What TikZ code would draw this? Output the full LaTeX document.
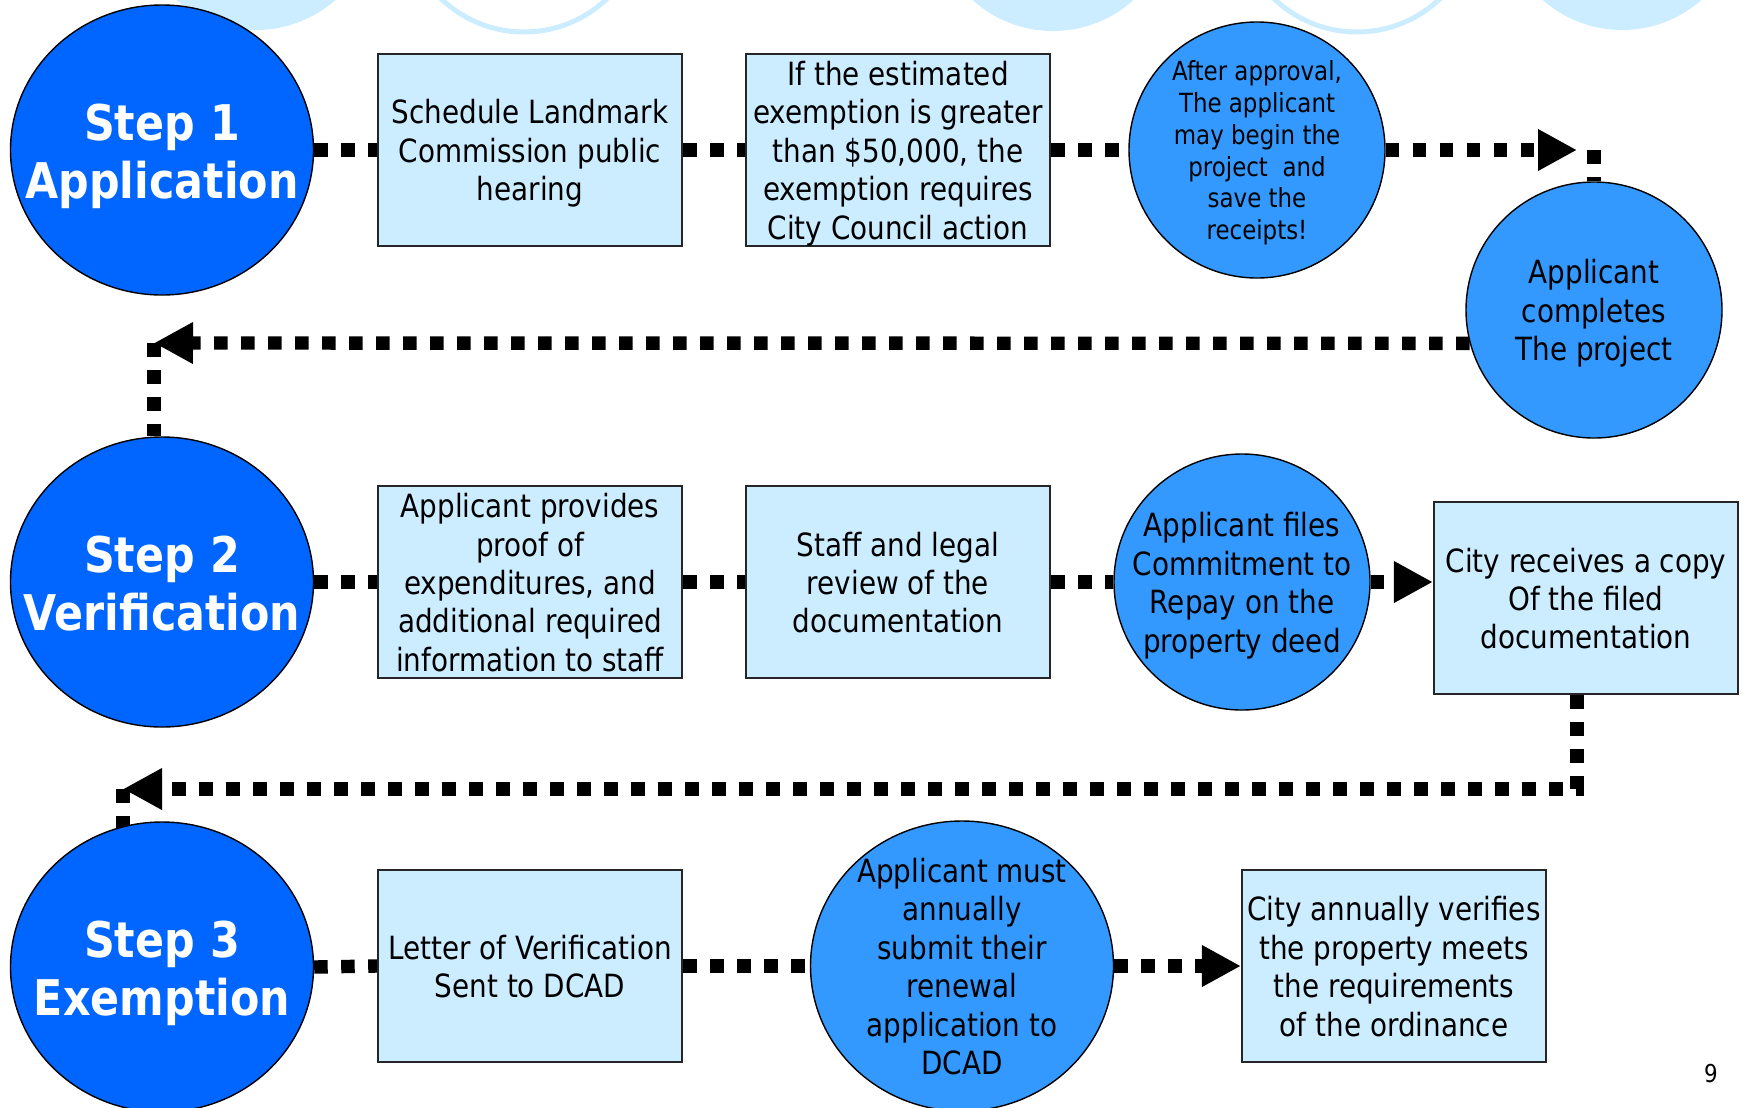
\documentclass[tikz,border=0pt]{standalone}
\usepackage{fontspec}
\setmainfont{DejaVu Sans}[FakeStretch=0.87]
\usetikzlibrary{arrows.meta,shapes.geometric,backgrounds}
\definecolor{stepblue}{RGB}{0,102,255}
\definecolor{actblue}{RGB}{51,153,255}
\definecolor{paleblue}{RGB}{204,236,255}
\newcommand{\boxfont}{\fontsize{9.1}{10.95}\selectfont}
\newcommand{\smallboxfont}{\fontsize{7.5}{9.05}\selectfont}
\newcommand{\stepfont}{\fontsize{14}{16.5}\selectfont\bfseries}
% fixed line metrics, first line and last line
\newcommand{\tpad}{\rule{0pt}{1.08em}}
\tikzset{
  evenrows/.style={execute at end node={\rule[-0.3em]{0pt}{0pt}}},
  stepc/.style={ellipse, draw=black, line width=0.4pt, fill=stepblue, minimum width=30.3mm,
    minimum height=29mm, inner xsep=-5mm, inner ysep=-5mm, text=white, font=\stepfont,
    align=center, evenrows},
  bigact/.style={stepc, fill=actblue, text=black, font=\boxfont},
  actc/.style={circle, draw=black, line width=0.4pt, fill=actblue, minimum size=25.6mm,
    inner sep=-3mm, font=\boxfont, align=center, evenrows},
  infob/.style={draw=black!85, line width=0.6pt, fill=paleblue, minimum width=30.4mm,
    minimum height=19.2mm, inner xsep=0pt, inner ysep=-1.5mm, font=\boxfont, align=center, evenrows},
  dotln/.style={line width=1.34mm, dash pattern=on 1.35mm off 1.35mm},
  dotarr/.style={dotln, -{Triangle[length=3.9mm, width=3.9mm]}},
  decofill/.style={fill=paleblue},
  decoring/.style={draw=paleblue, line width=0.5mm},
}

\begin{document}
\begin{tikzpicture}[x=0.1mm,y=-0.1mm]
\useasboundingbox (0,0) rectangle (1748,1107);
% pale circles cut by the top edge
\fill[decofill] (256,-90) circle (12mm);
\draw[decoring] (524,-88) circle (12mm);
\fill[decofill] (1053,-89) circle (12mm);
\draw[decoring] (1357,-88) circle (12mm);
\fill[decofill] (1622,-90) circle (12mm);

% step 1
\node[stepc] (step1) at (162,150) {\tpad Step 1\\Application};
\node[infob] (hearing) at (530,150) {\tpad Schedule Landmark\\Commission public\\hearing};
\node[infob] (council) at (898,150)
  {\tpad If the estimated\\exemption is greater\\than \$50,000, the\\exemption requires\\City Council action};
\node[actc, font=\smallboxfont] (approval) at (1257,150)
  {\tpad After approval,\\ The applicant\\may begin the\\project~ and\\save the\\receipts!};
\node[actc] (complete) at (1594,310) {\tpad Applicant\\completes\\The project};

% step 2
\node[stepc] (step2) at (162,582) {\tpad Step 2\\Verification};
\node[infob] (proof) at (530,582)
  {\tpad Applicant provides\\proof of\\expenditures, and\\additional required\\information to staff};
\node[infob] (review) at (898,582) {\tpad Staff and legal\\review of the\\documentation};
\node[actc] (repay) at (1242,582) {\tpad Applicant files\\Commitment to\\Repay on the\\property deed};
\node[infob] (copy) at (1586,598) {\tpad City receives a copy\\Of the filed\\documentation};

% step 3
\node[stepc] (step3) at (162,967) {\tpad Step 3\\Exemption};
\node[infob] (letter) at (530,966) {\tpad Letter of Verification\\Sent to DCAD};
\node[bigact] (renewal) at (962,966)
  {\tpad Applicant must\\annually\\submit their\\renewal\\application to\\DCAD};
\node[infob] (verify) at (1394,966)
  {\tpad City annually verifies\\the property meets\\the requirements\\of the ordinance};

\node (pgno) at (1711,1074) {\fontsize{7}{8}\selectfont 9};

\coordinate (ka) at (1577,150);
\coordinate (kb) at (154,343);
\coordinate (kc) at (123,789);

\begin{scope}[on background layer]
  \draw[dotln] (step1.east) -- (hearing.west);
  \draw[dotln] (hearing.east) -- (council.west);
  \draw[dotln] (council.east) -- (approval.west);
  \draw[dotarr] (approval.east) -- (ka);
  \draw[dotln] (approval.east -| complete.north) -- (complete.north);
  \draw[dotarr] (complete.195) -- (kb);
  \draw[dotln] (kb) -- (kb |- step2.north);

  \draw[dotln] (step2.east) -- (proof.west);
  \draw[dotln] (proof.east) -- (review.west);
  \draw[dotln] (review.east) -- (repay.west);
  \draw[dotarr] (repay.east) -- (repay.east -| copy.west);
  \draw[dotarr] ([xshift=-0.9mm]copy.south) |- (kc);
  \draw[dotln] (kc) -- (kc |- step3.center);

  \draw[dotln] (step3.east) -- (letter.west);
  \draw[dotln] (letter.east) -- (renewal.west);
  \draw[dotarr] (renewal.east) -- (verify.west);
\end{scope}
\end{tikzpicture}
\end{document}
